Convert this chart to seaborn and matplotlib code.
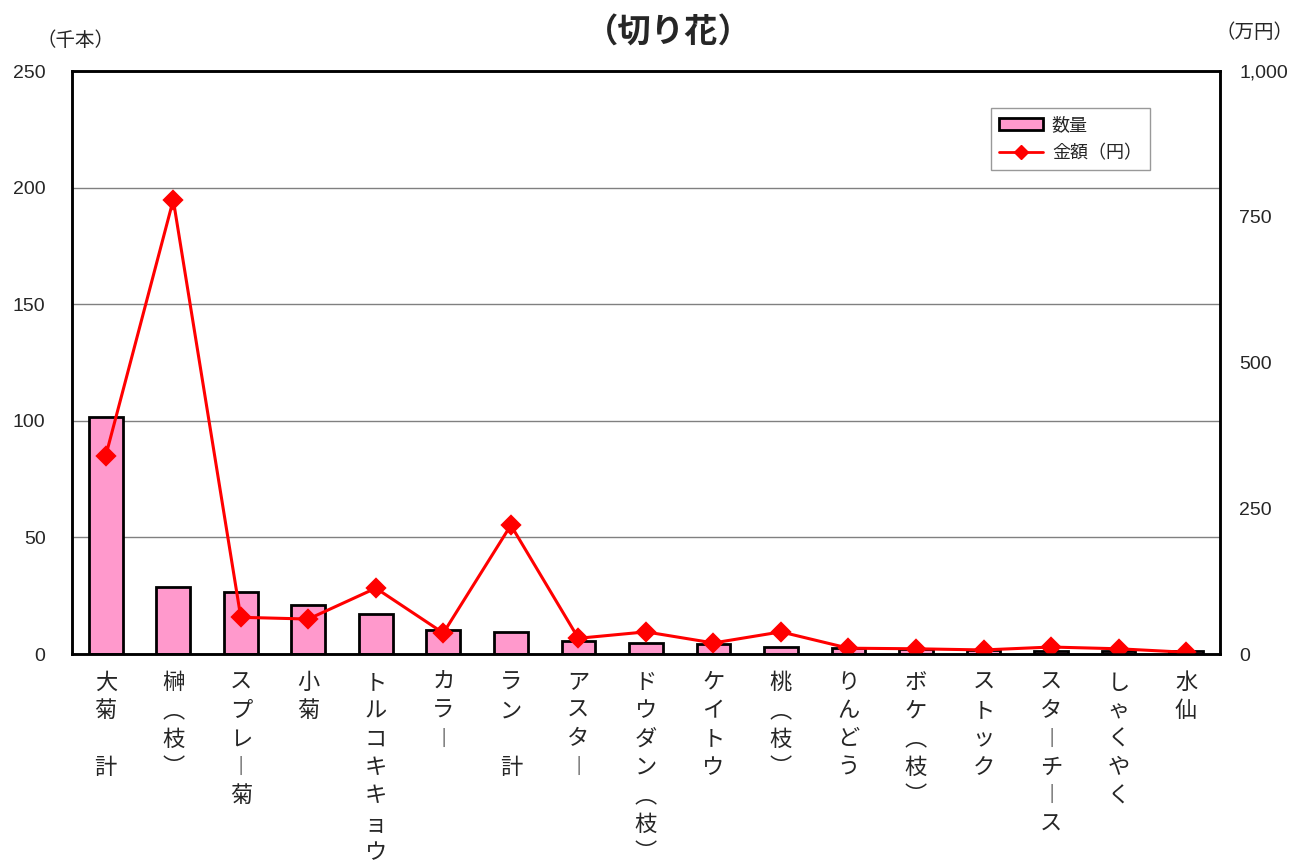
import matplotlib
matplotlib.use("Agg")
import matplotlib.pyplot as plt
import seaborn as sns
import numpy as np
import pandas as pd
from matplotlib.ticker import FuncFormatter, FixedLocator
from matplotlib.patches import Patch
from matplotlib.lines import Line2D

# ── Data ────────────────────────────────────────────
CATEGORIES = ["大菊　計", "榊（枝）", "スプレー菊", "小菊", "トルコキキョウ", "カラー",
              "ラン　計", "アスター", "ドウダン（枝）", "ケイトウ", "桃（枝）", "りんどう",
              "ボケ（枝）", "ストック", "スターチース", "しゃくやく", "水仙"]
QUANTITY = [101.6, 28.7, 26.6, 21.0, 17.2, 10.3, 9.4, 5.6, 4.7, 4.3, 3.0, 2.6, 2.1, 1.9, 1.3, 1.3, 1.1]   # 千本
AMOUNT   = [340, 779, 63, 60, 113, 36, 221, 27, 38, 19, 38, 10, 9, 7, 12, 9, 3]                              # 万円

LEFT_TICKS  = [0, 50, 100, 150, 200, 250]
RIGHT_TICKS = [0, 250, 500, 750, 1000]

PINK = "#FF99CC"
RED  = "#FF0000"
NUM_FONT = ["Liberation Sans", "DejaVu Sans"]

sns.set_style("white")
plt.rcParams["font.family"] = ["Noto Sans CJK JP", "DejaVu Sans"]

# vertical writing: one character per line, rotate brackets / long vowel
VERT = {"ー": "︱", "（": "︵", "）": "︶", "　": " "}
def vertical(s):
    return "\n".join(VERT.get(c, c) for c in s)

df = pd.DataFrame({"cat": CATEGORIES, "qty": QUANTITY, "amt": AMOUNT})

fig = plt.figure(figsize=(12.97, 8.65), dpi=100)
ax = fig.add_axes([0.0555, 0.2439, 0.885, 0.674])

sns.barplot(data=df, x="cat", y="qty", ax=ax, color=PINK, width=0.5,
            edgecolor="black", linewidth=2, saturation=1)
ax.set_ylim(0, 250)
ax.set_yticks(LEFT_TICKS)
ax.yaxis.grid(True, color="#808080", linewidth=1)
ax.set_axisbelow(True)
ax.set_xlabel("")
ax.set_ylabel("")

ax2 = ax.twinx()
sns.pointplot(data=df, x="cat", y="amt", ax=ax2, color=RED, markers="D",
              linestyles="-", markersize=9, linewidth=2.2)
ax2.set_ylim(0, 1000)
ax2.set_yticks(RIGHT_TICKS)
ax2.yaxis.set_major_formatter(FuncFormatter(lambda v, p: f"{int(v):,}"))
ax2.set_ylabel("")
ax2.set_xlabel("")

n = len(CATEGORIES)
for a in (ax, ax2):
    a.set_xlim(-0.5, n - 0.5)
    for s in a.spines.values():
        s.set_color("black")
        s.set_linewidth(1.8)
        s.set_visible(True)

ax.set_xticks(np.arange(n))
ax.set_xticklabels([vertical(c) for c in CATEGORIES], fontsize=16,
                   va="top", linespacing=1.3)
ax.tick_params(axis="x", length=0, pad=12)
ax.xaxis.set_minor_locator(FixedLocator(np.arange(0.5, n - 0.5, 1)))
ax.tick_params(axis="x", which="minor", direction="in", length=5, color="#808080", width=1)
ax.tick_params(axis="y", labelsize=14, length=0, pad=19)
ax2.tick_params(axis="y", labelsize=14, length=0, pad=14)
for lab in ax.get_yticklabels() + ax2.get_yticklabels():
    lab.set_fontfamily(NUM_FONT)

fig.text(0.515, 0.962, "（切り花）", ha="center", va="center", fontsize=24, fontweight="bold")
fig.text(0.058, 0.953, "（千本）", ha="center", va="center", fontsize=14)
fig.text(0.997, 0.962, "（万円）", ha="right", va="center", fontsize=14)

handles = [Patch(facecolor=PINK, edgecolor="black", linewidth=2),
           Line2D([0], [0], color=RED, lw=2, marker="D", markersize=7)]
leg = ax.legend(handles, ["数量", "金額（円）"], loc="upper right",
                bbox_to_anchor=(0.947, 0.952), fontsize=13, frameon=True,
                fancybox=False, edgecolor="#808080", handlelength=2.4,
                borderpad=0.45, labelspacing=0.55, handletextpad=0.5)
leg.get_frame().set_linewidth(1)
leg.set_zorder(10)

fig.savefig("out.png", dpi=100)
